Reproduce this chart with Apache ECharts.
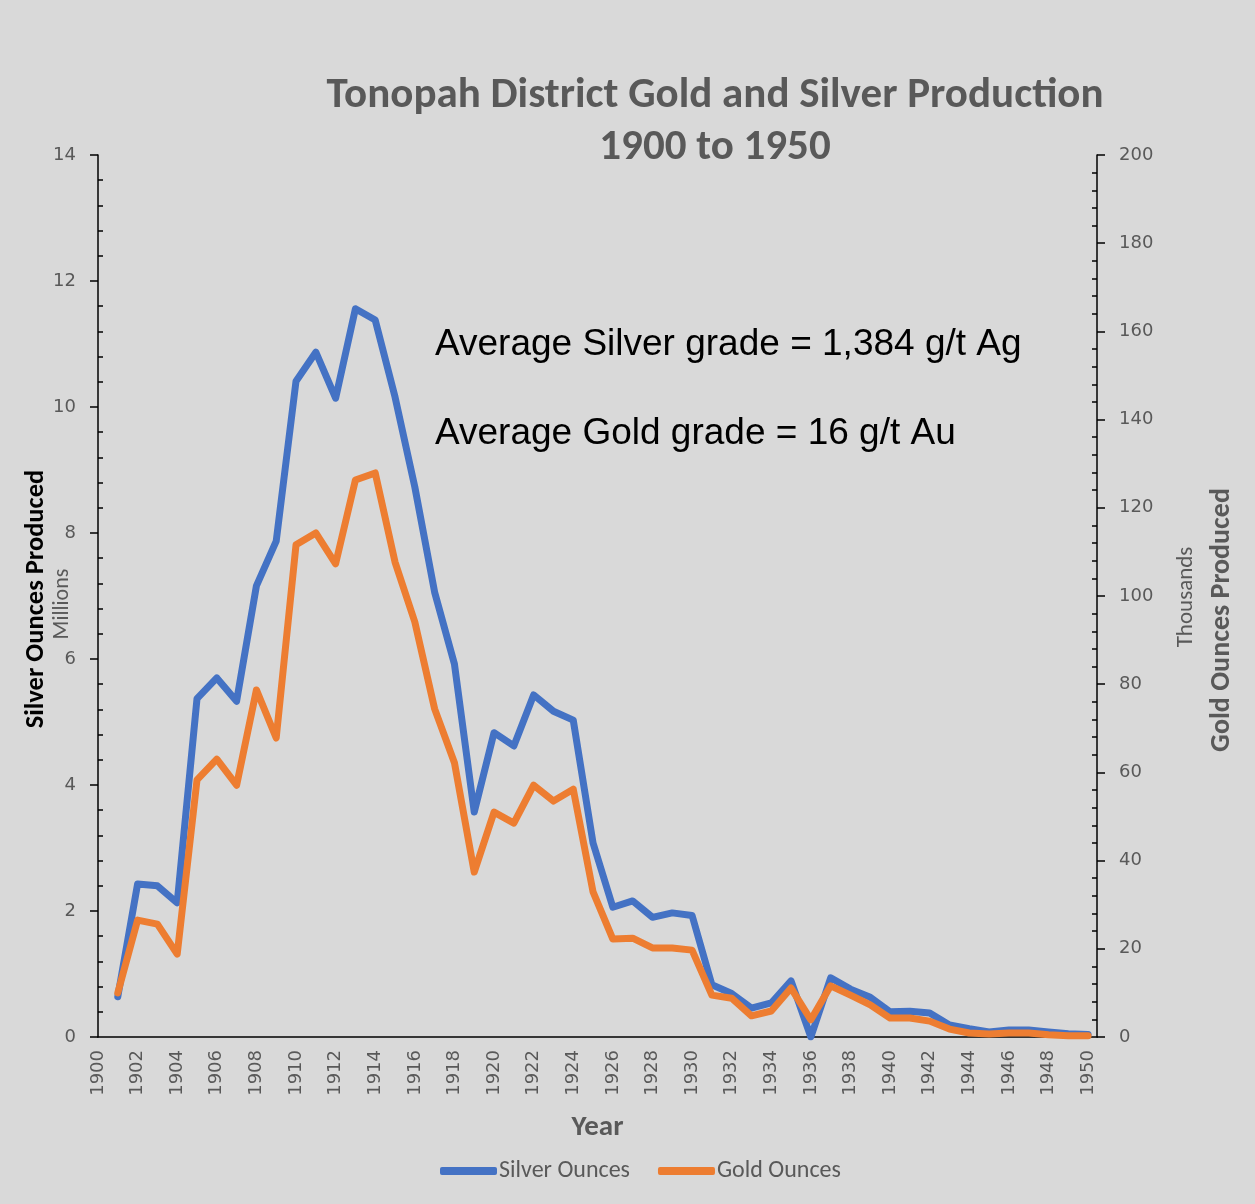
<!DOCTYPE html>
<html>
<head>
<meta charset="utf-8">
<script src="https://cdn.jsdelivr.net/npm/echarts@6/dist/echarts.min.js"></script>
<style>
html,body{margin:0;padding:0;background:#d9d9d9;}
#chart{width:1255px;height:1204px;}
</style>
</head>
<body>
<div id="chart"></div>
<script>
// ---- data ----
const years = [1901,1902,1903,1904,1905,1906,1907,1908,1909,1910,1911,1912,1913,1914,1915,1916,1917,1918,1919,1920,1921,1922,1923,1924,1925,1926,1927,1928,1929,1930,1931,1932,1933,1934,1935,1936,1937,1938,1939,1940,1941,1942,1943,1944,1945,1946,1947,1948,1949,1950];
// Silver ounces, millions
const silverMillions = [0.64,2.43,2.40,2.13,5.37,5.70,5.33,7.16,7.87,10.41,10.87,10.14,11.56,11.38,10.16,8.73,7.06,5.92,3.57,4.83,4.62,5.43,5.17,5.03,3.08,2.06,2.16,1.90,1.97,1.93,0.83,0.69,0.46,0.54,0.89,0.0,0.94,0.76,0.63,0.40,0.41,0.38,0.19,0.13,0.08,0.11,0.11,0.08,0.05,0.04];
// Gold ounces, thousands
const goldThousands = [10.0,26.5,25.6,18.8,58.3,63.0,57.1,78.7,67.8,111.6,114.3,107.3,126.3,127.9,107.7,94.1,74.4,62.2,37.4,51.0,48.5,57.1,53.5,56.2,32.9,22.2,22.4,20.2,20.2,19.7,9.5,8.8,4.8,5.9,11.1,3.9,11.6,9.5,7.3,4.3,4.3,3.6,1.8,0.9,0.7,0.9,0.9,0.5,0.3,0.3];
const seriesNames = ['Silver Ounces','Gold Ounces'];
const titleLines = ['Tonopah District Gold and Silver Production','1900 to 1950'];
const notes = ['Average Silver grade = 1,384 g/t Ag','Average Gold grade = 16 g/t Au'];

const grey = '#595959';
const tickFont = 'DejaVu Sans';
const condFont = "Carlito, 'Liberation Sans Narrow', 'Open Sans', sans-serif";

const chart = echarts.init(document.getElementById('chart'));
const axisLine = {show:true, lineStyle:{color:'#000', width:1.5}};
const option = {
  backgroundColor:'#d9d9d9',
  animation:false,
  grid:{left:98, right:158, top:155, bottom:167, containLabel:false},
  legend:{
    data:seriesNames, left:435, top:1154, icon:'roundRect',
    itemWidth:57, itemHeight:8, itemGap:28,
    textStyle:{color:grey, fontSize:24, fontFamily:condFont, padding:[0,0,0,-3]}
  },
  xAxis:{
    type:'value', min:1900, max:1950.45, interval:2,
    name:'Year', nameLocation:'middle', nameGap:76,
    nameTextStyle:{color:grey, fontSize:29, fontWeight:'bold', fontFamily:condFont},
    axisLine:axisLine, axisTick:{show:false}, splitLine:{show:false},
    axisLabel:{rotate:90, margin:13, color:grey, fontSize:18, fontFamily:tickFont,
      formatter:v => (Math.abs(v - Math.round(v)) < 1e-6 && Math.round(v) % 2 === 0) ? String(Math.round(v)) : ''}
  },
  yAxis:[
    {type:'value', position:'left', min:0, max:14, interval:2,
     axisLine:axisLine, axisTick:{show:true, length:8, lineStyle:{color:'#000', width:1.5}},
     splitLine:{show:false},
     axisLabel:{margin:22, color:grey, fontSize:18, fontFamily:tickFont}},
    {type:'value', position:'right', min:0, max:200, interval:20,
     axisLine:axisLine, axisTick:{show:true, length:8, lineStyle:{color:'#000', width:1.5}},
     splitLine:{show:false},
     axisLabel:{margin:22, color:grey, fontSize:18, fontFamily:tickFont}},
    {type:'value', position:'left', min:0, max:14, interval:2,
     axisLine:{show:false}, axisLabel:{show:false}, splitLine:{show:false},
     axisTick:{show:false, inside:true},
     minorTick:{show:true, splitNumber:5, length:5, lineStyle:{color:'#000', width:1.5}}},
    {type:'value', position:'right', min:0, max:200, interval:20,
     axisLine:{show:false}, axisLabel:{show:false}, splitLine:{show:false},
     axisTick:{show:false, inside:true},
     minorTick:{show:true, splitNumber:5, length:5, lineStyle:{color:'#000', width:1.5}}}
  ],
  series:[
    {name:seriesNames[0], type:'line', yAxisIndex:0, showSymbol:false, symbol:'none',
     color:'#4472c4', lineStyle:{width:7, color:'#4472c4', cap:'round', join:'round'},
     data:years.map((y,i)=>[y, silverMillions[i]])},
    {name:seriesNames[1], type:'line', yAxisIndex:1, showSymbol:false, symbol:'none',
     color:'#ed7d31', lineStyle:{width:7, color:'#ed7d31', cap:'round', join:'round'},
     data:years.map((y,i)=>[y, goldThousands[i]])}
  ],
  graphic:[
    {type:'text', x:715, y:96, style:{text:titleLines[0], fill:grey, font:"bold 43px " + condFont, textAlign:'center', textVerticalAlign:'middle'}},
    {type:'text', x:715, y:148, style:{text:titleLines[1], fill:grey, font:"bold 43px " + condFont, textAlign:'center', textVerticalAlign:'middle'}},
    {type:'text', x:435, y:345, style:{text:notes[0], fill:'#000', font:"37px 'Liberation Sans', Arial, sans-serif", textAlign:'left', textVerticalAlign:'middle'}},
    {type:'text', x:435, y:434, style:{text:notes[1], fill:'#000', font:"37px 'Liberation Sans', Arial, sans-serif", textAlign:'left', textVerticalAlign:'middle'}},
    {type:'text', x:36, y:599, rotation:Math.PI/2, style:{text:'Silver Ounces Produced', fill:'#000', font:"bold 26.5px " + condFont, textAlign:'center', textVerticalAlign:'middle'}},
    {type:'text', x:62, y:604, rotation:Math.PI/2, style:{text:'Millions', fill:grey, font:"22px " + condFont, textAlign:'center', textVerticalAlign:'middle'}},
    {type:'text', x:1186, y:597, rotation:Math.PI/2, style:{text:'Thousands', fill:grey, font:"23px " + condFont, textAlign:'center', textVerticalAlign:'middle'}},
    {type:'text', x:1222, y:620, rotation:Math.PI/2, style:{text:'Gold Ounces Produced', fill:grey, font:"bold 28px " + condFont, textAlign:'center', textVerticalAlign:'middle'}}
  ]
};
chart.setOption(option);
</script>
</body>
</html>
